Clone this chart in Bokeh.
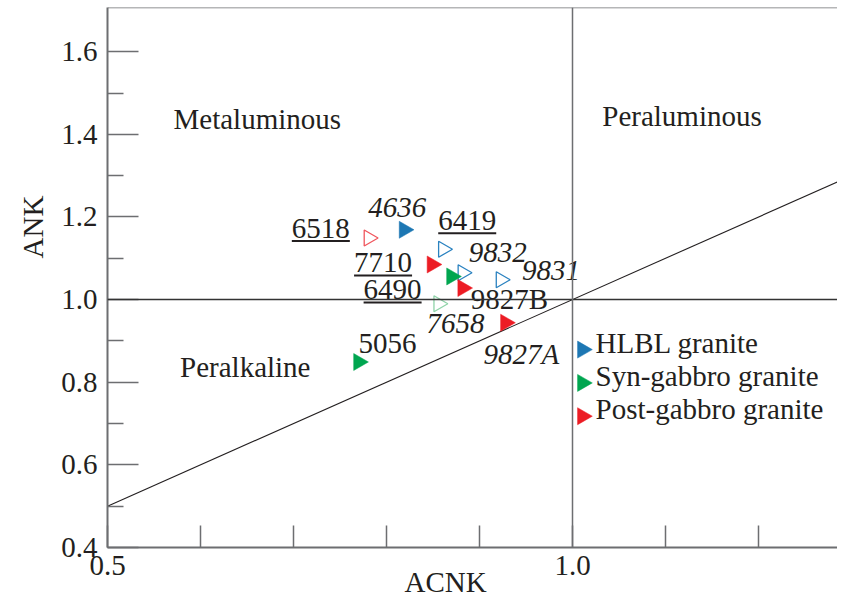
import numpy as np
from bokeh.plotting import figure
from bokeh.models import FixedTicker, NumeralTickFormatter, Span, ColumnDataSource, Title
from bokeh.core.properties import value
from bokeh.embed import file_html
from bokeh.resources import INLINE

# ---------------- data ----------------
samples = ["6518", "4636", "6419", "9832", "7710", "9831", "6490", "9827B", "7658", "5056", "9827A"]
acnk = [0.781, 0.819, 0.861, 0.882, 0.849, 0.923, 0.870, 0.882, 0.856, 0.770, 0.928]
ank = [1.149, 1.169, 1.122, 1.065, 1.085, 1.048, 1.056, 1.028, 0.990, 0.849, 0.944]
groups = ["Post-gabbro granite", "HLBL granite", "HLBL granite", "HLBL granite",
          "Post-gabbro granite", "HLBL granite", "Syn-gabbro granite", "Post-gabbro granite",
          "Syn-gabbro granite", "Syn-gabbro granite", "Post-gabbro granite"]
filled = [False, True, False, False, True, False, True, True, False, True, True]
label_style = ["underline", "italic", "underline", "italic", "underline", "italic",
               "underline", "normal", "italic", "normal", "italic"]
# label offsets from the marker, in screen pixels (left edge, baseline)
label_dx = [-77, -36, -5, 6, -78, 21, -88, 8, -12, 0, -22]
label_dy = [0, -12, -19, -10, 8, 1, 23, 21, 30, -8, 41]

legend_groups = ["HLBL granite", "Syn-gabbro granite", "Post-gabbro granite"]
fill_colors = {"HLBL granite": "#1d77b3", "Syn-gabbro granite": "#00a650", "Post-gabbro granite": "#ec1c24"}
open_colors = {"HLBL granite": "#2a82c0", "Syn-gabbro granite": "#8fd3a8", "Post-gabbro granite": "#f0565d"}

x_ticks = [0.5, 1.0]
x_minor = [0.6, 0.7, 0.8, 0.9, 1.1, 1.2]
y_ticks = [0.4, 0.6, 0.8, 1.0, 1.2, 1.4, 1.6]
y_minor = [0.5, 0.7, 0.9, 1.1, 1.3, 1.5]
boundary = [0.5, 1.3]   # ANK = ACNK line
regions = ["Metaluminous", "Peraluminous", "Peralkaline"]
region_x = [0.571, 1.032, 0.578]
region_y = [1.413, 1.421, 0.812]

# ---------------- layout ----------------
W, H = 837, 598
BL, BR, BT, BB = 107, 0, 7, 51
XPX = 930.0
X0, Y0, Y1 = 0.5, 0.4, 1.707
X1 = X0 + (W - BL - BR) / XPX
YPX = (H - BT - BB) / (Y1 - Y0)

FONT = value("Liberation Serif")
TXT = "#231f20"
AX = "#6d6e71"
FS = "29px"
MID = -10  # baseline -> middle of text, in px

p = figure(width=W, height=H, x_range=(X0, X1), y_range=(Y0, Y1),
           output_backend="svg", toolbar_location=None,
           min_border_left=BL, min_border_right=BR, min_border_top=BT, min_border_bottom=BB,
           outline_line_color=None, background_fill_color="white", border_fill_color="white")
p.grid.visible = False

for ax in (p.xaxis[0], p.yaxis[0]):
    ax.axis_line_color = AX
    ax.axis_line_width = 2
    ax.major_tick_line_color = AX
    ax.minor_tick_line_color = AX
    ax.major_tick_line_width = 1.5
    ax.minor_tick_line_width = 1.5
    ax.major_tick_out = 0
    ax.minor_tick_out = 0
    ax.major_label_text_font = "Liberation Serif"
    ax.major_label_text_font_size = FS
    ax.major_label_text_color = TXT
    ax.formatter = NumeralTickFormatter(format="0.0")

xa = p.xaxis[0]
xa.ticker = FixedTicker(ticks=x_ticks, minor_ticks=x_minor)
xa.major_tick_in = 22
xa.minor_tick_in = 22
xa.major_label_standoff = 8

ya = p.yaxis[0]
ya.ticker = FixedTicker(ticks=y_ticks, minor_ticks=y_minor)
ya.major_tick_in = 31
ya.minor_tick_in = 16
ya.major_label_standoff = 10

# axis titles, shifted to where the original figure has them
p.add_layout(Title(text="ACNK", align="left", offset=297, standoff=-28,
                   text_font="Liberation Serif", text_font_size=FS,
                   text_font_style="normal", text_color=TXT), "below")
p.add_layout(Title(text="ANK", align="left", offset=289, standoff=19,
                   text_font="Liberation Serif", text_font_size=FS,
                   text_font_style="normal", text_color=TXT), "left")

# frame lines
p.add_layout(Span(location=Y1, dimension="width", line_color=AX, line_width=1.5))
p.add_layout(Span(location=1.0, dimension="width", line_color="#333333", line_width=1.5))
p.add_layout(Span(location=1.0, dimension="height", line_color=AX, line_width=1.5))
p.line(boundary, boundary, line_color="#231f20", line_width=1.1)

# region names
p.text(region_x, region_y, text=regions, y_offset=MID, text_font=FONT, text_font_size=value(FS),
       text_color=TXT, text_align="left", text_baseline="middle")

# markers
ANG = -np.pi / 2
for g in legend_groups:
    fx = [x for x, gg, f in zip(acnk, groups, filled) if gg == g and f]
    fy = [y for y, gg, f in zip(ank, groups, filled) if gg == g and f]
    ox = [x for x, gg, f in zip(acnk, groups, filled) if gg == g and not f]
    oy = [y for y, gg, f in zip(ank, groups, filled) if gg == g and not f]
    if fx:
        p.scatter(fx, fy, marker="triangle", size=17, angle=ANG,
                  fill_color=fill_colors[g], line_color=fill_colors[g], line_width=0.5)
    if ox:
        p.scatter(ox, oy, marker="triangle", size=16, angle=ANG,
                  fill_color=None, line_color=open_colors[g], line_width=1.3)

# sample labels
for style in ("normal", "italic", "underline"):
    idx = [i for i, s in enumerate(label_style) if s == style]
    src = ColumnDataSource(dict(
        x=[acnk[i] for i in idx], y=[ank[i] for i in idx],
        t=[samples[i] for i in idx],
        dx=[label_dx[i] for i in idx], dy=[label_dy[i] + MID for i in idx]))
    p.text("x", "y", text="t", x_offset="dx", y_offset="dy", source=src,
           text_font=FONT, text_font_size=value(FS), text_color=TXT,
           text_font_style="italic" if style == "italic" else "normal",
           text_align="left", text_baseline="middle")
    if style == "underline":
        x0 = [acnk[i] + label_dx[i] / XPX for i in idx]
        x1 = [acnk[i] + (label_dx[i] + 14.5 * len(samples[i])) / XPX for i in idx]
        yy = [ank[i] - (label_dy[i] + 3) / YPX for i in idx]
        p.segment(x0, yy, x1, yy, line_color=TXT, line_width=2)

# legend (drawn manually so the triangles point right)
leg_x = 1.0 + 10.0 / XPX
leg_y0 = 1.0 - 50.0 / YPX
row = 33.3 / YPX
leg_ys = [leg_y0 - k * row for k in range(len(legend_groups))]
p.scatter([leg_x] * 3, leg_ys, marker="triangle", size=17, angle=ANG,
          fill_color=[fill_colors[g] for g in legend_groups],
          line_color=[fill_colors[g] for g in legend_groups], line_width=0.5)
p.text([leg_x] * 3, leg_ys, text=legend_groups, x_offset=13, y_offset=3 + MID,
       text_font=FONT, text_font_size=value(FS), text_color=TXT,
       text_align="left", text_baseline="middle")

open("out.html", "w").write(file_html(p, INLINE))
